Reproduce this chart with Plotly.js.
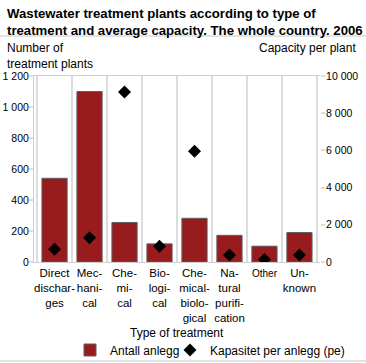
<!DOCTYPE html>
<html>
<head>
<meta charset="utf-8">
<script src="https://cdn.plot.ly/plotly-3.0.1.min.js"></script>
<style>html,body{margin:0;padding:0;background:#fff;overflow:hidden;}#chart{width:366px;height:363px;}</style>
</head>
<body>
<div id="chart"></div>
<script>
var categories = ["Direct discharges", "Mechanical", "Chemical", "Biological", "Chemical-biological", "Natural purification", "Other", "Unknown"];
var tickLabels = ["Direct<br>dischar-<br>ges", "Mec-<br>hani-<br>cal", "Che-<br>mi-<br>cal", "Bio-<br>logi-<br>cal", "Che-<br>mical-<br>biolo-<br>gical", "Na-<br>tural<br>purifi-<br>cation", "<span style=\"font-size:10px\">Other</span>", "Un-<br>known"];
var plantCount = [540, 1100, 255, 117, 282, 172, 102, 190];
var capacityPerPlant = [690, 1310, 9140, 850, 5960, 380, 130, 380];
var leftTicks = [0, 200, 400, 600, 800, 1000, 1200];
var leftTickText = ["0", "200", "400", "600", "800", "1 000", "1 200"];
var rightTicks = [0, 2000, 4000, 6000, 8000, 10000];
var rightTickText = ["0", "2 000", "4 000", "6 000", "8 000", "10 000"];

var font = "Liberation Sans, Arial, sans-serif";
var traces = [
  {
    type: "bar", name: "Antall anlegg", x: categories, y: plantCount,
    marker: {color: "#981b1e", line: {color: "#5e5e5e", width: 1}},
    legend: "legend",
    hoverinfo: "none"
  },
  {
    type: "scatter", mode: "markers", name: "Kapasitet per anlegg (pe)", x: categories, y: capacityPerPlant,
    yaxis: "y2", legend: "legend2",
    marker: {symbol: "diamond", color: "#000", size: 10},
    hoverinfo: "none"
  }
];

var PH = 186; // plot height in px (for paper offsets)
var legendBase = {
  orientation: "h", xref: "container", xanchor: "left", y: -88/PH, yanchor: "middle",
  font: {family: font, size: 12, color: "#000"},
  bgcolor: "rgba(0,0,0,0)", itemwidth: 30
};
var layout = {
  width: 366, height: 363,
  margin: {l: 34, r: 46, t: 76, b: 101, autoexpand: false},
  paper_bgcolor: "#fff", plot_bgcolor: "#fff",
  font: {family: font, size: 12, color: "#000"},
  showlegend: true,
  bargap: 0.28,
  xaxis: {
    type: "category",
    tickvals: categories, ticktext: tickLabels,
    tickson: "boundaries", ticks: "", tickangle: 0,
    showgrid: true, gridcolor: "#dcdcdc", gridwidth: 2,
    showline: true, mirror: true, linecolor: "#cfcfcf", linewidth: 1,
    tickfont: {family: font, size: 11.5, color: "#000"},
    automargin: false, fixedrange: true, zeroline: false
  },
  yaxis: {
    range: [0, 1200], tickvals: leftTicks, ticktext: leftTickText,
    ticks: "outside", ticklen: 4, tickcolor: "#dcdcdc", tickwidth: 2,
    ticklabelstandoff: -2,
    showgrid: false, zeroline: false,
    showline: true, linecolor: "#cfcfcf",
    tickfont: {family: font, size: 10.5, color: "#000"},
    automargin: false, fixedrange: true
  },
  yaxis2: {
    overlaying: "y", side: "right",
    range: [0, 10000], tickvals: rightTicks, ticktext: rightTickText,
    ticks: "outside", ticklen: 4, tickcolor: "#dcdcdc", tickwidth: 2,
    ticklabelstandoff: -1,
    showgrid: false, zeroline: false, showline: false,
    tickfont: {family: font, size: 10.5, color: "#000"},
    automargin: false, fixedrange: true
  },
  legend: Object.assign({}, legendBase, {x: 70/366}),
  legend2: Object.assign({}, legendBase, {x: 170/366}),
  annotations: [
    {text: "<b>Wastewater treatment plants according to type of<br>treatment and average capacity. The whole country. 2006</b>", xref: "paper", yref: "paper", x: -29/286, y: 1 + (76-21.5)/PH, xanchor: "left", yanchor: "middle", align: "left", showarrow: false, font: {family: font, size: 13.2, color: "#000"}},
    {text: "Number of<br>treatment plants", xref: "paper", yref: "paper", x: -29/286, y: 1 + (76-55.5)/PH, xanchor: "left", yanchor: "middle", align: "left", showarrow: false, font: {family: font, size: 12, color: "#000"}},
    {text: "Capacity per plant", xref: "paper", yref: "paper", x: 1 + 38/286, y: 1 + (76-48)/PH, xanchor: "right", yanchor: "middle", align: "right", showarrow: false, font: {family: font, size: 12, color: "#000"}},
    {text: "Type of treatment", xref: "paper", yref: "paper", x: 0.5, y: -(333-262)/PH, xanchor: "center", yanchor: "middle", showarrow: false, font: {family: font, size: 12, color: "#000"}}
  ],
  shapes: [
    {type: "line", xref: "paper", yref: "paper", x0: -34/286, x1: 1 + 46/286, y0: 1 + 40/PH, y1: 1 + 40/PH, line: {color: "#c8c8c8", width: 1}},
    {type: "line", xref: "paper", yref: "paper", x0: -34/286, x1: 1 + 46/286, y0: -99/PH, y1: -99/PH, line: {color: "#c8c8c8", width: 1}}
  ]
};

Plotly.newPlot("chart", traces, layout, {displayModeBar: false, staticPlot: true});
</script>
</body>
</html>
